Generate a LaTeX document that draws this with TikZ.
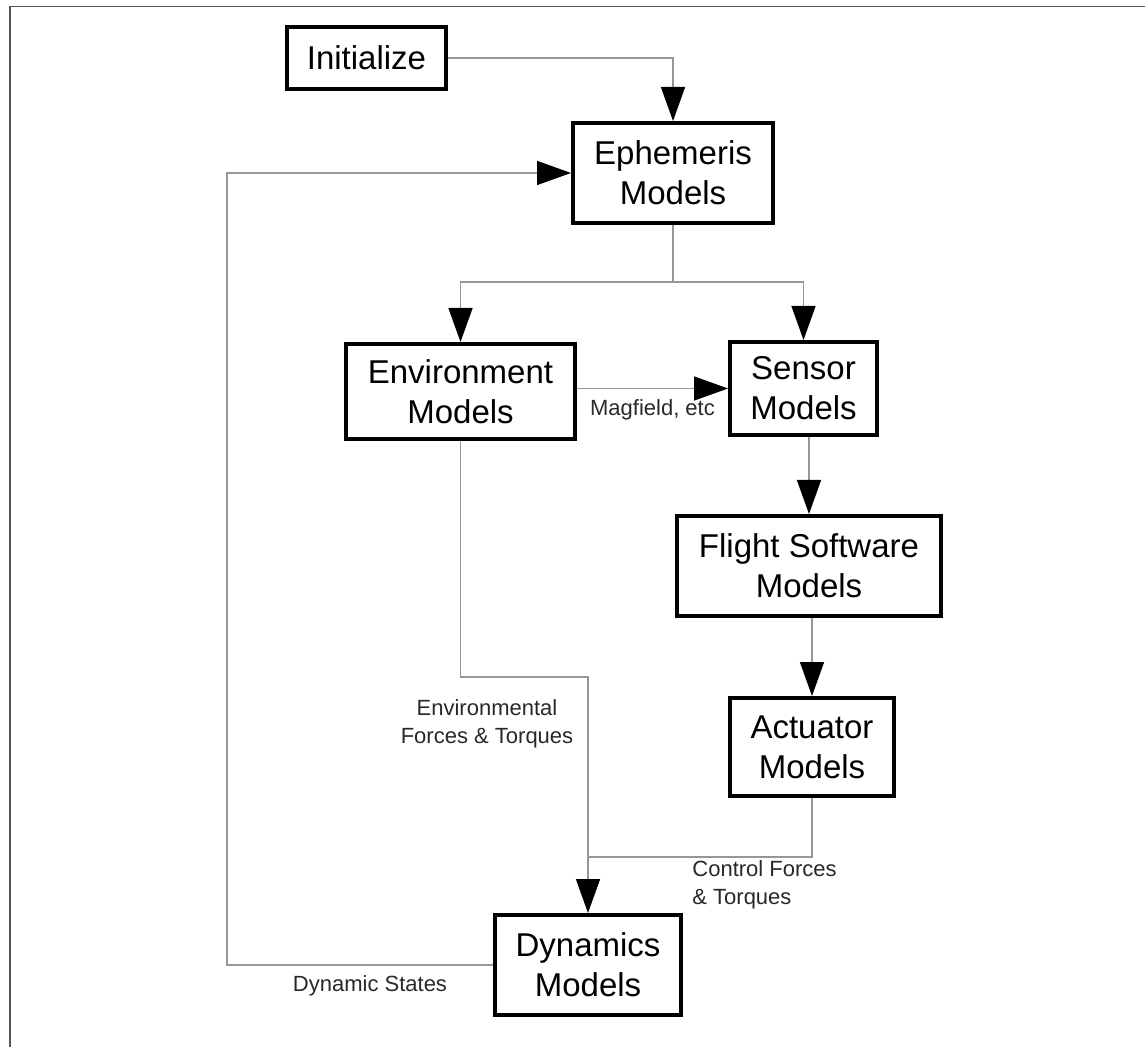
\documentclass[tikz,border=0pt]{standalone}
\usepackage{fontspec}
\setmainfont{Liberation Sans}
\usetikzlibrary{arrows.meta, positioning, calc}
\definecolor{LinkGray}{RGB}{150,150,150}
\definecolor{FrameGray}{RGB}{85,85,85}
\definecolor{NoteGray}{RGB}{40,40,40}

\begin{document}
\begin{tikzpicture}[
    x=0.5pt, y=-0.5pt,
    model/.style={rectangle, draw, line width=2pt, fill=white, inner sep=0pt, align=center, font=\fontsize{16.5}{20}\selectfont},
    arrow/.style={-{Triangle[length=17pt, width=12pt, black]}, LinkGray, line width=0.75pt},
    plain/.style={LinkGray, line width=0.75pt},
    note/.style={align=center, text=NoteGray, inner sep=0pt, font=\fontsize{11}{14}\selectfont},
    frame/.style={FrameGray, line width=0.8pt}
]
\useasboundingbox (0,0) rectangle (1145,1047);

% Page frame
\draw[frame] (10,1047) -- (10,6.5) -- (1145,6.5);

% Models
\node[model, minimum width=79.5pt, minimum height=31pt] (init) at (366.5,58) {Initialize};
\node[model, minimum width=100pt, minimum height=50pt] (ephem) at (673,173) {Ephemeris\\Models};
\node[model, minimum width=114.5pt, minimum height=47.5pt] (env) at (460.5,391.5) {Environment\\Models};
\node[model, minimum width=73.5pt, minimum height=46.5pt] (sensor) at (803.5,388.5) {Sensor\\Models};
\node[model, minimum width=132pt, minimum height=50pt] (fsw) at (809,566) {Flight Software\\Models};
\node[model, minimum width=82pt, minimum height=49pt] (act) at (812,747) {Actuator\\Models};
\node[model, minimum width=93pt, minimum height=50pt] (dyn) at (588,965) {Dynamics\\Models};

% Bends and joints
\coordinate (fb) at (227,173);
\coordinate (split) at (673,282);
\coordinate (ej) at (588,677);
\coordinate (cj) at (588,857);

% Main chain
\draw[arrow] (init) -| (ephem);
\draw[arrow] (ephem) -- (split) -| (env);
\draw[arrow] (split) -| (sensor);
\draw[arrow] (env.east |- sensor.west) -- (sensor.west)
    node[note, midway, below=5pt] (magf) {Magfield, etc};
\draw[arrow] (fsw.north |- sensor.south) -- (fsw);
\draw[arrow] (act.north |- fsw.south) -- (act);

% Forces into dynamics
\draw[arrow] (env) |- (ej) -- (dyn);
\draw[plain] (act) |- (cj);

% Feedback of states
\draw[arrow] (dyn) -| (fb) -- (ephem);

% Labels
\node[note] (envft) at (487,724) {Environmental\\Forces \& Torques};
\node[note, align=left, anchor=west] (ctrlft) at (692,885) {Control Forces\\\& Torques};
\node[note] (dynst) at (370,986) {Dynamic States};

\end{tikzpicture}
\end{document}
